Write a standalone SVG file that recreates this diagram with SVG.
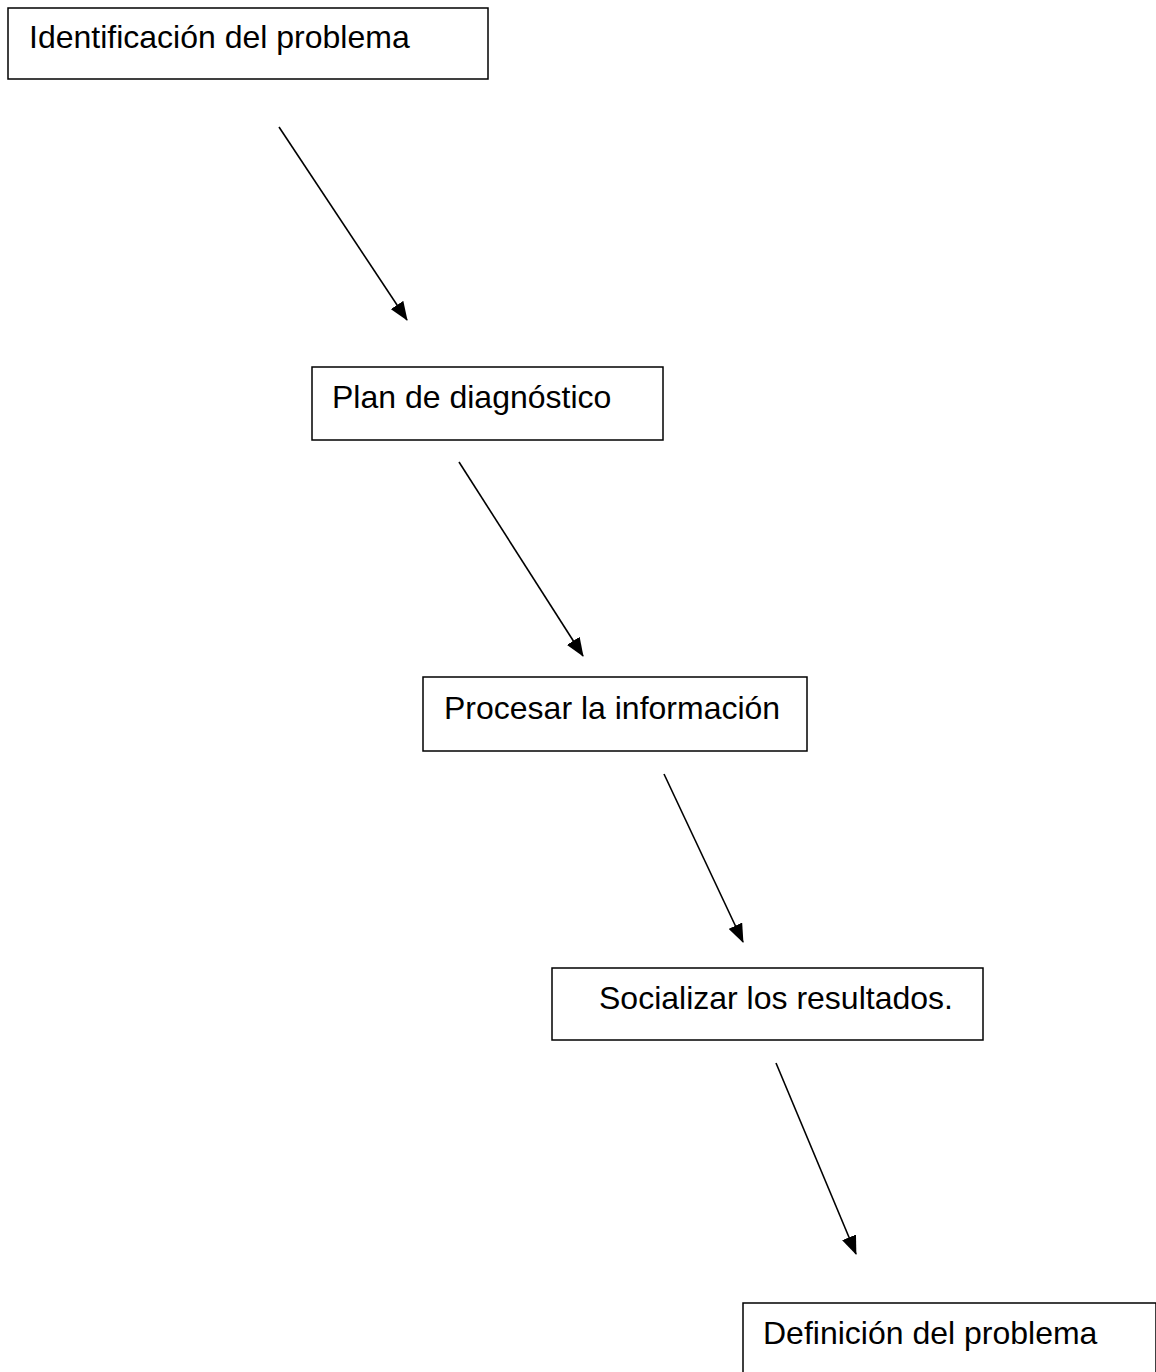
<svg xmlns="http://www.w3.org/2000/svg" width="1156" height="1372" viewBox="0 0 1156 1372">
<style>
.box{fill:#fff;stroke:#000;stroke-width:1.5}
.lbl{font-family:"Liberation Sans",Arial,sans-serif;font-size:32px;fill:#000}
.conn{stroke:#000;stroke-width:1.6;fill:none;marker-end:url(#ah)}
</style>
<defs>
<marker id="ah" markerUnits="userSpaceOnUse" markerWidth="19" markerHeight="15" refX="18" refY="7.5" orient="auto">
<path d="M0,0 L19,7.5 L0,15 Z" fill="#000"/>
</marker>
</defs>
<rect width="1156" height="1372" fill="#fff"/>
<g id="n1"><rect class="box" x="8" y="8" width="480" height="71"/><text class="lbl" x="29" y="48">Identificación del problema</text></g>
<g id="n2"><rect class="box" x="312" y="367" width="351" height="73"/><text class="lbl" x="332" y="408">Plan de diagnóstico</text></g>
<g id="n3"><rect class="box" x="423" y="677" width="384" height="74"/><text class="lbl" x="444" y="719">Procesar la información</text></g>
<g id="n4"><rect class="box" x="552" y="968" width="431" height="72"/><text class="lbl" x="599" y="1009">Socializar los resultados.</text></g>
<g id="n5"><rect class="box" x="743" y="1303" width="413" height="90"/><text class="lbl" x="763" y="1344">Definición del problema</text></g>
<g id="connectors">
<line class="conn" x1="279" y1="127" x2="407" y2="320"/>
<line class="conn" x1="459" y1="462" x2="583" y2="656"/>
<line class="conn" x1="664" y1="774" x2="743" y2="942"/>
<line class="conn" x1="776" y1="1063" x2="856" y2="1254"/>
</g>
</svg>
